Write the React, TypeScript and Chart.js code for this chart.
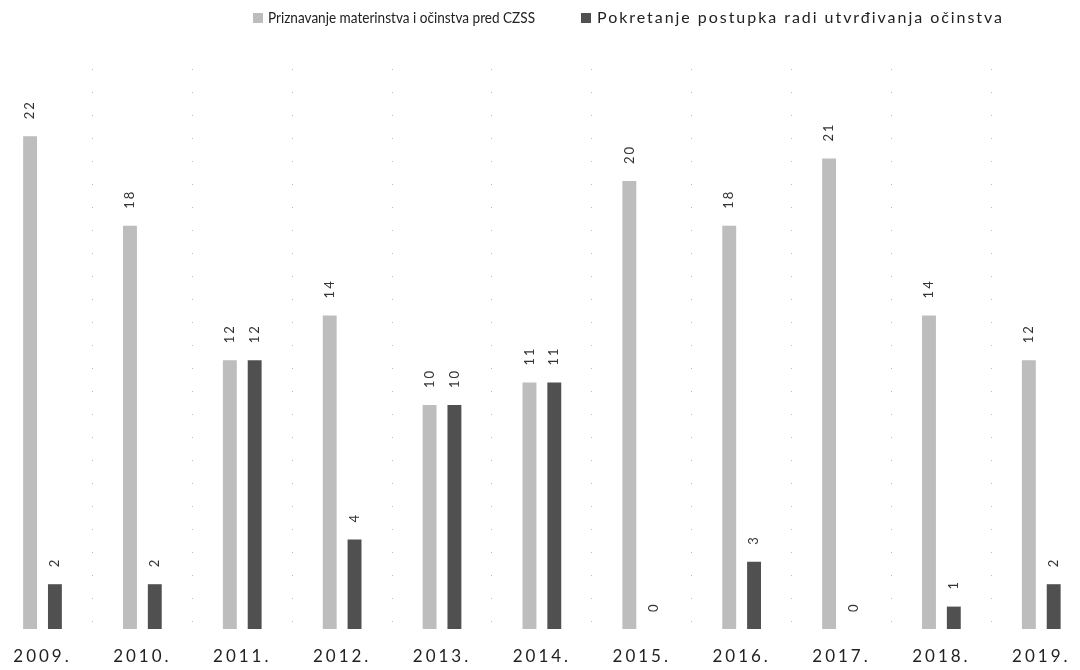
import React, { useEffect, useRef } from 'react';
import { Chart, registerables, CategoryScale } from 'chart.js';

Chart.register(...registerables);

// ---- data ----
const years = ['2009.', '2010.', '2011.', '2012.', '2013.', '2014.', '2015.', '2016.', '2017.', '2018.', '2019.'];
const priznavanjeValues = [22, 18, 12, 14, 10, 11, 20, 18, 21, 14, 12];
const pokretanjeValues = [2, 2, 12, 4, 10, 11, 0, 3, 0, 1, 2];
const seriesLabels = [
  'Priznavanje materinstva i očinstva pred CZSS',
  'Pokretanje postupka radi utvrđivanja očinstva',
];

// ---- styles ----
const LIGHT = '#bdbdbd';
const DARK = '#505050';
const FONT = 'Lato, "Open Sans", sans-serif';
const legendLayout = [
  { swatchX: 253, textX: 268, textEnd: 535, size: 16, mode: 'scale' },
  { swatchX: 581, textX: 597, textEnd: 1004, size: 16, mode: 'spacing' },
];

class SpacedCategoryScale extends CategoryScale {
  static id = 'spacedCategory';
  drawLabels(area: any) {
    const ctx: any = this.ctx;
    ctx.save();
    ctx.letterSpacing = '3px';
    super.drawLabels(area);
    ctx.restore();
  }
}
Chart.register(SpacedCategoryScale as any);

const valueLabels = {
  id: 'valueLabels',
  afterDatasetsDraw(chart: any) {
    const ctx = chart.ctx;
    ctx.save();
    ctx.font = `13px ${FONT}`;
    ctx.fillStyle = '#333';
    ctx.letterSpacing = '2px';
    chart.data.datasets.forEach((ds: any, di: number) => {
      const meta = chart.getDatasetMeta(di);
      meta.data.forEach((bar: any, i: number) => {
        ctx.save();
        ctx.translate(bar.x, bar.y - 17);
        ctx.rotate(-Math.PI / 2);
        ctx.textAlign = 'left';
        ctx.textBaseline = 'middle';
        ctx.fillText(String(ds.data[i]), 0, 0);
        ctx.restore();
      });
    });
    ctx.restore();
  },
};

const customLegend = {
  id: 'customLegend',
  afterDraw(chart: any) {
    const ctx = chart.ctx;
    chart.data.datasets.forEach((ds: any, i: number) => {
      const L = legendLayout[i];
      ctx.save();
      ctx.fillStyle = ds.backgroundColor;
      ctx.fillRect(L.swatchX, 13, 10, 10);
      ctx.font = `${L.size}px ${FONT}`;
      ctx.fillStyle = '#222';
      ctx.textBaseline = 'middle';
      ctx.textAlign = 'left';
      ctx.letterSpacing = '0px';
      const w = ctx.measureText(ds.label).width;
      const target = L.textEnd - L.textX;
      if (L.mode === 'scale') {
        ctx.translate(L.textX, 18);
        ctx.scale(target / w, 1);
        ctx.fillText(ds.label, 0, 0);
      } else {
        const n = Array.from(ds.label as string).length;
        ctx.letterSpacing = `${(target - w) / n}px`;
        ctx.fillText(ds.label, L.textX, 18);
      }
      ctx.restore();
    });
  },
};

export default function App() {
  const canvasRef = useRef<HTMLCanvasElement | null>(null);

  useEffect(() => {
    if (!canvasRef.current) return;
    const chart = new Chart(canvasRef.current, {
      type: 'bar',
      data: {
        labels: years,
        datasets: [
          {
            label: seriesLabels[0],
            data: priznavanjeValues,
            backgroundColor: LIGHT,
            borderWidth: 0,
            categoryPercentage: 0.497,
            barPercentage: 0.56,
            clip: false as any,
          },
          {
            label: seriesLabels[1],
            data: pokretanjeValues,
            backgroundColor: DARK,
            borderWidth: 0,
            categoryPercentage: 0.497,
            barPercentage: 0.56,
            clip: false as any,
          },
        ],
      },
      options: {
        responsive: false,
        animation: false,
        layout: { padding: { left: 42.5, right: 32, top: 69, bottom: 4 } },
        plugins: {
          legend: { display: false },
          tooltip: { enabled: false },
          title: { display: false },
        },
        scales: {
          x: {
            type: 'spacedCategory' as any,
            offset: false,
            grid: { display: true, offset: true, color: '#bdbdbd', lineWidth: 1, drawTicks: false },
            border: { display: false, dash: [1, 22] },
            ticks: {
              color: '#222',
              font: { family: FONT, size: 17 },
              padding: 17,
              maxRotation: 0,
              autoSkip: false,
            },
            afterFit: (scale: any) => {
              scale.height = 37;
            },
          },
          y: { display: false, min: 0, max: 25 },
        },
      },
      plugins: [valueLabels, customLegend],
    });
    return () => chart.destroy();
  }, []);

  return (
    <div style={{ position: 'absolute', left: 0, top: 0, width: 1080, height: 670, background: '#fff' }}>
      <canvas ref={canvasRef} width={1080} height={670} style={{ width: 1080, height: 670, display: 'block' }} />
    </div>
  );
}
